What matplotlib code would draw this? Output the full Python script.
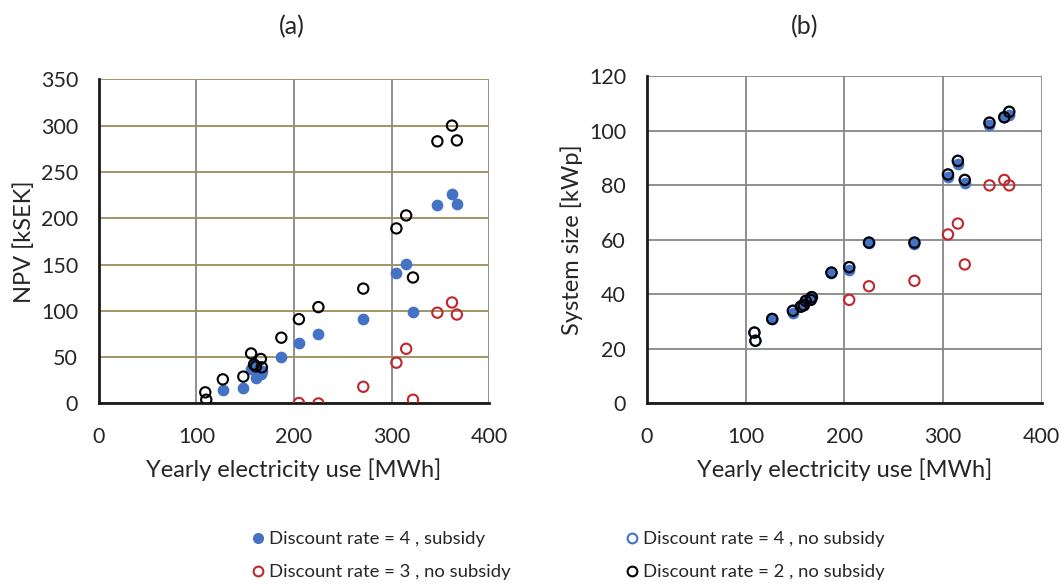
import numpy as np
import matplotlib
matplotlib.use("Agg")
import matplotlib.pyplot as plt
from matplotlib.lines import Line2D

plt.rcParams['font.family'] = ['Lato', 'DejaVu Sans']
plt.rcParams['text.color'] = '#262626'
plt.rcParams['xtick.color'] = '#262626'
plt.rcParams['ytick.color'] = '#262626'
plt.rcParams['axes.labelcolor'] = '#262626'

# yearly electricity use [MWh] per building
use = [109, 110, 127, 148, 156, 159, 161, 166, 167, 187, 205, 225, 271, 305, 315, 322, 347, 362, 367]

# (a) NPV [kSEK]  (None = negative, not shown)
npv_d4_sub = [None, None, 15, 17, 37, 42, 28, 32, 35, 50, 65, 75, 91, 141, 151, 99, 214, 226, 215]
npv_d3_nosub = [None, None, None, None, None, None, None, None, None, None, 0.5, 0, 18, 44, 59, 4, 98, 109, 96]
npv_d2_nosub = [12, 4, 26, 29, 54, 42, 40, 48, 39, 71, 91, 104, 124, 189, 203, 136, 283, 300, 284]

# (b) system size [kWp]
size_d4_sub = [None, None, 31, 33, 36, 37, 38, 38.5, 39, 48, 49, 59, 58.5, 83, 88, 81, 102, 105, 106]
size_d4_nosub = [26, 23, 31, 34, 35.5, 36, 37.6, 38, 39, 48, 50, 59, 59, 84, 89, 82, 103, 105, 107]
size_d3_nosub = [None, None, None, None, None, None, None, None, None, None, 38, 43, 45, 62, 66, 51, 80, 82, 80]
size_d2_nosub = [26, 23, 31, 34, 35.5, 36, 37.6, 38, 39, 48, 50, 59, 59, 84, 89, 82, 103, 105, 107]

blue = '#4472C4'
red = '#C0272D'
olive = '#988E5C'
grey = '#878787'


def pts(xs, ys):
    x = [a for a, b in zip(xs, ys) if b is not None]
    y = [b for b in ys if b is not None]
    return x, y


fig = plt.figure(figsize=(10.62, 5.83), dpi=100)
ax1 = fig.add_axes([0.0932, 0.308, 0.3673, 0.556])
ax2 = fig.add_axes([0.609, 0.308, 0.372, 0.561])

ms = 55
ax1.scatter(*pts(use, npv_d4_sub), s=ms, color=blue, zorder=3)
ax1.scatter(*pts(use, npv_d3_nosub), s=ms, facecolor='none', edgecolor=red, linewidth=1.5, zorder=3)
ax1.scatter(*pts(use, npv_d2_nosub), s=ms, facecolor='none', edgecolor='black', linewidth=1.5, zorder=4)

ax2.scatter(*pts(use, size_d4_sub), s=ms, color=blue, zorder=3)
ax2.scatter(*pts(use, size_d4_nosub), s=ms, facecolor='none', edgecolor=blue, linewidth=1.5, zorder=3)
ax2.scatter(*pts(use, size_d3_nosub), s=ms, facecolor='none', edgecolor=red, linewidth=1.5, zorder=3)
ax2.scatter(*pts(use, size_d2_nosub), s=ms, facecolor='none', edgecolor='black', linewidth=1.5, zorder=4)

ax1.set_xlim(0, 400)
ax1.set_ylim(0, 350)
ax1.set_xticks(np.arange(0, 401, 100))
ax1.set_yticks(np.arange(0, 351, 50))
ax1.grid(axis='y', color=olive, linewidth=1.3, zorder=0)
ax1.grid(axis='x', color=grey, linewidth=1.3, zorder=0)

ax2.set_xlim(0, 400)
ax2.set_ylim(0, 120)
ax2.set_xticks(np.arange(0, 401, 100))
ax2.set_yticks(np.arange(0, 121, 20))
ax2.grid(color=grey, linewidth=1.3, zorder=0)

for ax, ylab in [(ax1, 'NPV [kSEK]'), (ax2, 'System size [kWp]')]:
    ax.set_axisbelow(True)
    ax.spines['top'].set_visible(False)
    ax.spines['right'].set_visible(False)
    ax.spines['left'].set_linewidth(2)
    ax.spines['bottom'].set_linewidth(2)
    ax.spines['left'].set_color('#1a1a1a')
    ax.spines['bottom'].set_color('#1a1a1a')
    ax.tick_params(axis='y', length=0, labelsize=15.5, pad=15)
    ax.tick_params(axis='x', length=0, labelsize=15.5, pad=17)
    ax.set_xlabel('Yearly electricity use [MWh]', fontsize=17, labelpad=8)
    ax.set_ylabel(ylab, fontsize=17, labelpad=4)

fig.text(292 / 1062, 1 - 27 / 583, '(a)', fontsize=18, ha='center', va='center')
fig.text(805 / 1062, 1 - 27 / 583, '(b)', fontsize=18, ha='center', va='center')

handles = [
    Line2D([], [], marker='o', linestyle='none', color=blue, markersize=7),
    Line2D([], [], marker='o', linestyle='none', markerfacecolor='none', markeredgecolor=red, markeredgewidth=1.5, markersize=7),
    Line2D([], [], marker='o', linestyle='none', markerfacecolor='none', markeredgecolor=blue, markeredgewidth=1.5, markersize=7),
    Line2D([], [], marker='o', linestyle='none', markerfacecolor='none', markeredgecolor='black', markeredgewidth=1.5, markersize=7),
]
labels = ['Discount rate = 4 , subsidy', 'Discount rate = 3 , no subsidy',
          'Discount rate = 4 , no subsidy', 'Discount rate = 2 , no subsidy']
spots = [(249, 539), (249, 572), (623, 539), (623, 572)]
for h, lab, (px, py) in zip(handles, labels, spots):
    fig.legend([h], [lab], loc='center left', bbox_to_anchor=(px / 1062, 1 - py / 583),
               frameon=False, fontsize=13.3, handletextpad=0.1, handlelength=1.0,
               borderpad=0, borderaxespad=0)

fig.savefig('out.png', dpi=100)
